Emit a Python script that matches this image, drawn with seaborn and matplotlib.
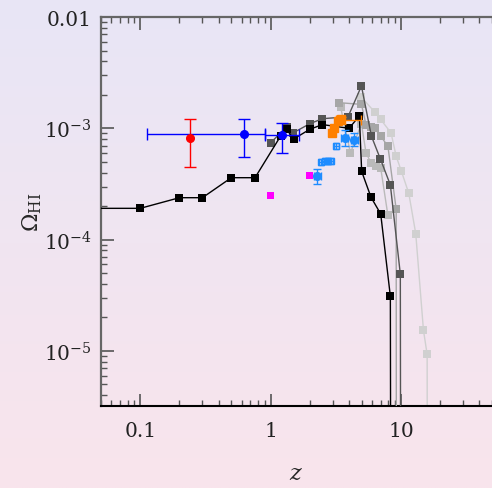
import numpy as np
import pandas as pd
import matplotlib
matplotlib.use("Agg")
import matplotlib.pyplot as plt
import seaborn as sns

# ---------------- data ----------------
black_z = [0.01, 0.1, 0.2, 0.3, 0.5, 0.76, 1.2, 1.33, 1.5, 2.0, 2.5, 4.0, 4.8, 5.0, 5.9, 7.0, 8.3, 8.4]
black_om = [1.91e-4, 1.91e-4, 2.38e-4, 2.38e-4, 3.6e-4, 3.6e-4, 8.6e-4, 9.8e-4, 8.0e-4, 9.8e-4,
            1.08e-3, 1.0e-3, 1.29e-3, 4.1e-4, 2.4e-4, 1.7e-4, 3.1e-5, 1e-8]

dark_z = [1.0, 1.33, 1.49, 2.0, 2.5, 3.93, 4.98, 5.94, 6.96, 8.3, 9.9, 10.0]
dark_om = [7.4e-4, 1.03e-3, 9.1e-4, 1.1e-3, 1.22e-3, 1.27e-3, 2.4e-3, 8.5e-4, 5.3e-4, 3.1e-4, 4.9e-5, 1e-8]

grey_z = [3.35, 4.98, 5.4, 5.9, 6.3, 7.0, 7.95, 9.2, 9.25]
grey_om = [1.7e-3, 1.64e-3, 1.08e-3, 1.02e-3, 1.0e-3, 8.5e-4, 6.9e-4, 1.87e-4, 1e-8]

grey2_z = [3.45, 4.1, 4.98, 5.4, 5.9, 6.4, 7.0, 7.95]
grey2_om = [1.55e-3, 6.0e-4, 1.1e-3, 6.0e-4, 4.9e-4, 4.6e-4, 4.4e-4, 1.65e-4]

light_z = [4.98, 6.3, 7.0, 8.4, 9.2, 10.1, 11.5, 13.0, 14.9, 15.9, 16.0]
light_om = [1.9e-3, 1.4e-3, 1.2e-3, 9.1e-4, 5.6e-4, 4.1e-4, 2.6e-4, 1.13e-4, 1.53e-5, 9.3e-6, 1e-8]

# red point with y error
red_z = [0.24]
red_om = [8.2e-4]
red_lo = [4.46e-4]
red_hi = [1.2e-3]

# blue points with x and y errors
blue_z = [0.62, 1.23]
blue_om = [8.8e-4, 8.65e-4]
blue_zlo = [0.113, 0.905]
blue_zhi = [0.905, 1.66]
blue_lo = [5.56e-4, 5.95e-4]
blue_hi = [1.22e-3, 1.11e-3]

# magenta squares
mag_z = [1.0, 2.0]
mag_om = [2.5e-4, 3.79e-4]

# light-blue filled circles with errors
lb_z = [2.29, 3.7, 4.4]
lb_om = [3.72e-4, 8.25e-4, 7.85e-4]
lb_lo = [3.14e-4, 7.0e-4, 6.9e-4]
lb_hi = [4.3e-4, 9.6e-4, 9.0e-4]

# light-blue open squares
lbs_z = [2.45, 2.6, 2.75, 2.9, 3.2]
lbs_om = [5.0e-4, 5.05e-4, 5.05e-4, 5.1e-4, 6.9e-4]
lbs_lo = [4.7e-4, 4.75e-4, 4.75e-4, 4.8e-4, 6.5e-4]
lbs_hi = [5.35e-4, 5.4e-4, 5.4e-4, 5.45e-4, 7.35e-4]

# orange squares and circle
or_z = [2.95, 3.05, 3.3, 3.45]
or_om = [9.1e-4, 1.0e-3, 1.17e-3, 1.22e-3]
orc_z = [3.5]
orc_om = [1.18e-3]
orc_zlo = [3.2]
orc_zhi = [4.98]
orc_lo = [1.1e-3]
orc_hi = [1.27e-3]

# ---------------- figure ----------------
sns.set_style("ticks")
plt.rcParams["font.family"] = ["DejaVu Serif"]
plt.rcParams["mathtext.fontset"] = "dejavuserif"

fig = plt.figure(figsize=(4.92, 4.89), dpi=100)

# gradient background
bg = fig.add_axes([0, 0, 1, 1], zorder=-10)
top = np.array([232, 230, 246]) / 255.0
bot = np.array([249, 228, 236]) / 255.0
t = np.linspace(0, 1, 256)[:, None]
grad = top[None, None, :] * (1 - t[:, :, None]) + bot[None, None, :] * t[:, :, None]
grad = np.repeat(grad, 4, axis=1)
bg.imshow(grad, aspect="auto", extent=[0, 1, 0, 1])
bg.set_axis_off()

ax = fig.add_axes([101 / 492, 1 - 407 / 489, 391 / 492, 389 / 489])
ax.set_facecolor("none")
ax.set_xscale("log")
ax.set_yscale("log")

def series(z, om, color, zo):
    df = pd.DataFrame({"z": z, "om": om})
    sns.lineplot(data=df, x="z", y="om", ax=ax, sort=False, estimator=None,
                 color=color, lw=1.0, marker="s", markersize=5.5,
                 markeredgewidth=0, zorder=zo)

series(light_z, light_om, "#d0d0d0", 2)
series(grey2_z, grey2_om, "#bababa", 3)
series(grey_z, grey_om, "#a6a6a6", 4)
series(dark_z, dark_om, "#555555", 5)
series(black_z, black_om, "#000000", 6)

# magenta squares
sns.scatterplot(x=mag_z, y=mag_om, ax=ax, marker="s", s=25, color="#ff00ff",
                edgecolor="none", zorder=7)

# red
ax.errorbar(red_z, red_om,
            yerr=[np.array(red_om) - np.array(red_lo), np.array(red_hi) - np.array(red_om)],
            fmt="o", color="#ff0000", ms=5.5, capsize=4, lw=1.0, zorder=8)
# blue
ax.errorbar(blue_z, blue_om,
            xerr=[np.array(blue_z) - np.array(blue_zlo), np.array(blue_zhi) - np.array(blue_z)],
            yerr=[np.array(blue_om) - np.array(blue_lo), np.array(blue_hi) - np.array(blue_om)],
            fmt="o", color="#0000ff", ms=5.5, capsize=4, lw=1.0, zorder=8)

lbc = "#1e8cff"
ax.errorbar(lbs_z, lbs_om,
            yerr=[np.array(lbs_om) - np.array(lbs_lo), np.array(lbs_hi) - np.array(lbs_om)],
            xerr=0.04 * np.array(lbs_z),
            fmt="s", mfc="none", mec=lbc, color=lbc, ms=5, capsize=2.5, lw=1.0, zorder=8)
ax.errorbar(lb_z, lb_om,
            yerr=[np.array(lb_om) - np.array(lb_lo), np.array(lb_hi) - np.array(lb_om)],
            xerr=0.06 * np.array(lb_z),
            fmt="o", color=lbc, ms=5.5, capsize=3, lw=1.0, zorder=8)

orc = "#ff8000"
ax.errorbar(or_z, or_om, yerr=0.05 * np.array(or_om), xerr=0.02 * np.array(or_z),
            fmt="s", color=orc, ms=5.5, capsize=2, lw=1.0, zorder=9)
ax.errorbar(orc_z, orc_om,
            xerr=[np.array(orc_z) - np.array(orc_zlo), np.array(orc_zhi) - np.array(orc_z)],
            yerr=[np.array(orc_om) - np.array(orc_lo), np.array(orc_hi) - np.array(orc_om)],
            fmt="o", color=orc, ms=5.5, capsize=3.5, lw=1.0, zorder=9)

ax.set_xlim(0.05, 50)
ax.set_ylim(3.2e-6, 0.01)

ax.set_xticks([0.1, 1, 10])
ax.set_xticklabels(["0.1", "1", "10"])
ax.set_yticks([1e-5, 1e-4, 1e-3, 1e-2])
ax.set_yticklabels([r"$10^{-5}$", r"$10^{-4}$", r"$10^{-3}$", "0.01"])

ax.tick_params(which="major", direction="in", length=9, width=1.2, top=True, right=False,
               labelsize=14.5, colors="#555555", labelcolor="#222222")
ax.tick_params(which="minor", direction="in", length=4.5, width=1.0, top=True, right=False,
               colors="#555555")
ax.tick_params(axis="x", which="major", pad=11)
ax.tick_params(axis="y", which="major", pad=6.5)

for side in ["left", "top"]:
    ax.spines[side].set_color("#666666")
    ax.spines[side].set_linewidth(1.6)
ax.spines["bottom"].set_color("#000000")
ax.spines["bottom"].set_linewidth(1.5)
ax.spines["right"].set_visible(False)

ax.set_xlabel(r"$z$", fontsize=16, labelpad=16)
ax.set_ylabel(r"$\Omega_{\rm HI}$", fontsize=16, labelpad=0)

fig.savefig("out.png", dpi=100)
